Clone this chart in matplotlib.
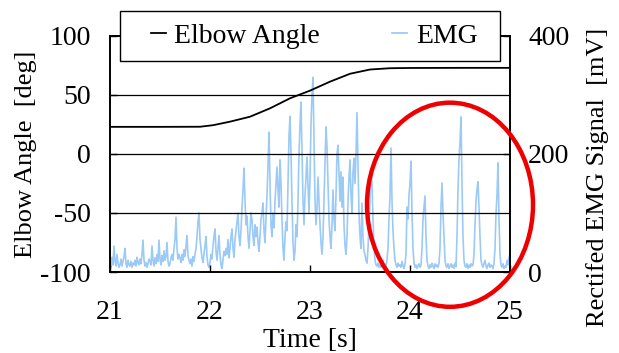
import matplotlib
matplotlib.use('Agg')
import matplotlib.pyplot as plt
import numpy as np
from matplotlib.patches import Ellipse, Rectangle

plt.rcParams['font.family'] = ['Liberation Serif', 'DejaVu Serif']
plt.rcParams['font.size'] = 20
plt.rcParams['axes.unicode_minus'] = False

# elbow angle [deg]
angle_t = [21.0, 21.5, 21.9, 22.03, 22.2, 22.4, 22.6, 22.8, 23.0, 23.2, 23.4, 23.6, 23.8, 24.0, 24.5, 25.0]
angle_deg = [23, 23, 23.1, 24.4, 27.4, 31.6, 38.7, 47.2, 53.7, 61.3, 68.0, 71.6, 72.7, 72.9, 73, 73]

# rectified EMG [mV], one value every 0.01 s from 21.00 to 25.00
emg_mv = [
    30, 8, 25, 12, 44, 18, 10, 30, 15, 8,
    12, 22, 10, 18, 26, 40, 14, 8, 20, 12,
    10, 18, 8, 15, 12, 20, 10, 25, 16, 12,
    22, 14, 30, 54, 20, 10, 16, 8, 14, 22,
    18, 12, 44, 20, 10, 24, 14, 30, 18, 54,
    22, 12, 28, 18, 36, 20, 26, 50, 18, 10,
    14, 24, 30, 20, 40, 55, 93, 40, 22, 30,
    24, 16, 30, 20, 38, 26, 45, 62, 28, 20,
    14, 22, 10, 26, 18, 30, 40, 60, 85, 100,
    55, 40, 24, 16, 30, 45, 60, 26, 12, 8,
    15, 30, 22, 45, 60, 73, 35, 20, 40, 62,
    30, 12, 6, 20, 35, 28, 40, 30, 55, 24,
    40, 60, 73, 40, 25, 55, 70, 85, 100, 60,
    45, 70, 110, 140, 176, 120, 80, 95, 60, 40,
    70, 100, 88, 60, 45, 80, 60, 76, 50, 35,
    60, 90, 100, 117, 70, 50, 90, 130, 180, 237,
    150, 80, 60, 100, 75, 120, 150, 178, 140, 110,
    190, 150, 90, 40, 20, 60, 85, 70, 150, 230,
    264, 200, 120, 50, 20, 35, 80, 60, 120, 200,
    250, 288, 200, 120, 80, 130, 160, 195, 150, 100,
    160, 250, 300, 330, 220, 120, 80, 110, 161, 120,
    80, 50, 30, 60, 120, 180, 246, 212, 150, 90,
    60, 40, 80, 139, 90, 70, 130, 200, 215, 170,
    120, 170, 110, 161, 80, 45, 30, 60, 120, 160,
    190, 130, 100, 170, 193, 150, 200, 270, 180, 100,
    60, 40, 117, 60, 35, 29, 20, 15, 40, 80,
    120, 173, 150, 90, 40, 20, 12, 10, 15, 8,
    12, 8, 15, 20, 10, 14, 8, 22, 40, 90,
    130, 210, 120, 70, 40, 20, 12, 8, 15, 10,
    12, 8, 18, 10, 6, 14, 30, 110, 90, 130,
    150, 188, 100, 40, 15, 8, 12, 6, 10, 14,
    8, 12, 40, 90, 110, 129, 60, 20, 10, 6,
    12, 8, 15, 10, 6, 14, 9, 12, 8, 15,
    40, 110, 151, 100, 60, 20, 10, 8, 14, 6,
    10, 14, 8, 12, 6, 15, 9, 60, 140, 190,
    220, 263, 150, 60, 20, 10, 8, 14, 6, 12,
    8, 14, 10, 12, 30, 80, 120, 140, 153, 110,
    60, 20, 12, 8, 14, 20, 10, 6, 12, 15,
    8, 12, 10, 6, 15, 40, 100, 130, 185, 90,
    30, 12, 8, 14, 6, 10, 8, 20, 12, 25,
    30,
]
emg_t = 21.0 + 0.01 * np.arange(len(emg_mv))

x_ticks = [21, 22, 23, 24, 25]
angle_ticks = [-100, -50, 0, 50, 100]
emg_ticks = [0, 200, 400]

# red ring marking the late bursts (data coords of the angle axis)
ring_center = (24.4, -43)
ring_w, ring_h = 1.66, 173

fig = plt.figure(figsize=(6.19, 3.53), dpi=100)
ax = fig.add_axes([110/619, 1-272/353, 400/619, 236/353])
ax2 = ax.twinx()

ax2.plot(emg_t, emg_mv, color='#9ccaf7', lw=1.2)
ax2.set_ylim(0, 400)
ax2.set_yticks(emg_ticks)
ax2.set_ylabel('Rectifed EMG Signal  [mV]', fontsize=19)
ax2.yaxis.set_label_coords(1.19, 0.40)

ax.plot(angle_t, angle_deg, color='black', lw=1.3)
ax.set_xlim(21, 25)
ax.set_ylim(-100, 100)
ax.set_xticks(x_ticks)
ax.set_yticks(angle_ticks)
ax.set_xlabel('Time [s]', labelpad=2)
ax.set_ylabel('Elbow Angle  [deg]', labelpad=2, fontsize=19)
for g in [-50, 0, 50]:
    ax.axhline(g, color='black', lw=0.9)
ax.set_zorder(ax2.get_zorder() + 1)
ax.patch.set_visible(False)

for a in (ax, ax2):
    a.tick_params(direction='in', length=5, width=1)
    for s in a.spines.values():
        s.set_linewidth(1.2)
ax.tick_params(axis='x', pad=20)
ax.tick_params(axis='y', pad=14)
ax2.tick_params(axis='y', pad=13)

ax.add_patch(Ellipse(ring_center, ring_w, ring_h, fill=False, edgecolor='#ee0000',
                     lw=3.2, clip_on=False, zorder=10))

# legend box sits over the top spine
fig.patches.append(Rectangle((120/619, 1-61/353), 380/619, 50/353, transform=fig.transFigure,
                             facecolor='white', edgecolor='black', lw=1.0, zorder=4))
h1, = ax.plot([], [], color='black', lw=1.3)
h2, = ax2.plot([], [], color='#9ccaf7', lw=1.3)
fig.legend([h1, h2], ['Elbow Angle', 'EMG'], loc='center', ncol=2, frameon=False,
           bbox_to_anchor=(314/619, 1-36/353), handlelength=0.55, handletextpad=0.3,
           columnspacing=2.6, fontsize=20).set_zorder(5)

fig.savefig('out.png', dpi=100)
